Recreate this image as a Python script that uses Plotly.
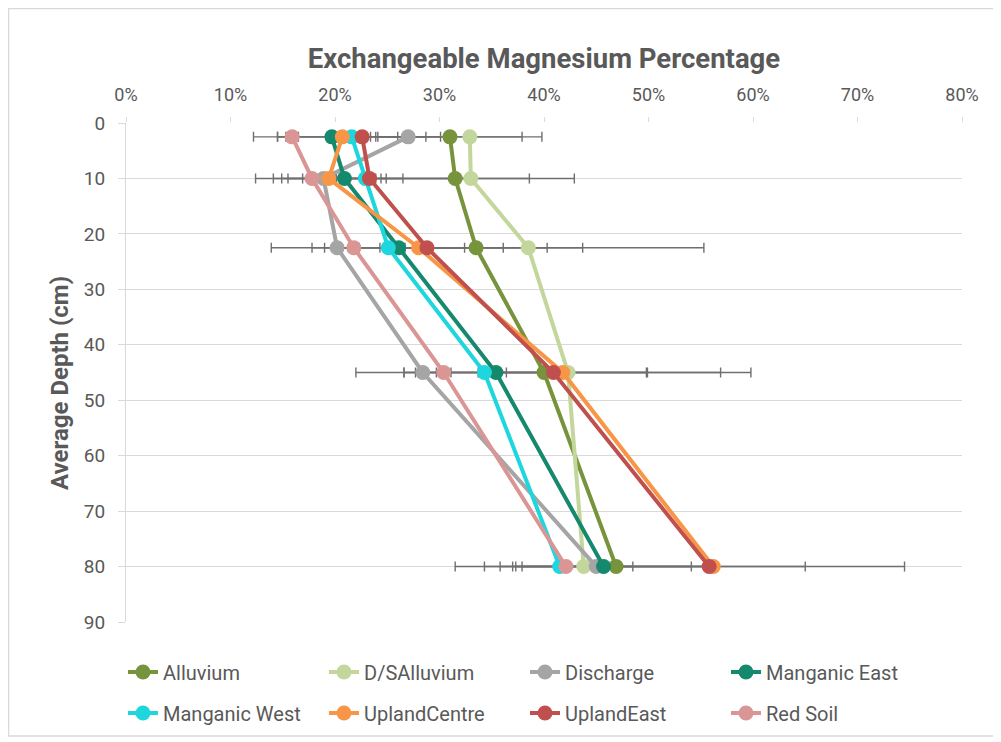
import plotly.graph_objects as go

depths = [2.5, 10, 22.5, 45, 80]
series_names = ["Alluvium", "D/SAlluvium", "Discharge", "Manganic East",
                "Manganic West", "UplandCentre", "UplandEast", "Red Soil"]
colors = ["#77933C", "#C3D69B", "#A5A5A5", "#15896D",
          "#1ED6DE", "#F79646", "#C0504D", "#D99694"]

# Exchangeable Mg % at each depth (fractions)
alluvium      = [0.310, 0.315, 0.335, 0.400, 0.469]
ds_alluvium   = [0.329, 0.330, 0.385, 0.423, 0.438]
discharge     = [0.270, 0.189, 0.202, 0.284, 0.450]
manganic_east = [0.197, 0.209, 0.261, 0.354, 0.457]
manganic_west = [0.216, 0.229, 0.251, 0.343, 0.415]
upland_centre = [0.207, 0.194, 0.280, 0.418, 0.562]
upland_east   = [0.226, 0.233, 0.288, 0.409, 0.558]
red_soil      = [0.159, 0.178, 0.218, 0.304, 0.421]

# error bar half-widths (fractions)
err_alluvium      = [0.069, 0.071, 0.068, 0.098, 0.016]
err_ds_alluvium   = [0.069, 0.099, 0.168, 0.146, 0.123]
err_discharge     = [0.031, 0.048, 0.012, 0.018, 0.107]
err_manganic_east = [0.075, 0.040, 0.018, 0.010, 0.084]
err_manganic_west = [0.071, 0.105, 0.073, 0.077, 0.057]
err_upland_centre = [0.062, 0.045, 0.081, 0.081, 0.183]
err_upland_east   = [0.008, 0.032, 0.149, 0.189, 0.092]
err_red_soil      = [0.006, 0.023, 0.005, 0.007, 0.051]

values = [alluvium, ds_alluvium, discharge, manganic_east,
          manganic_west, upland_centre, upland_east, red_soil]
errors = [err_alluvium, err_ds_alluvium, err_discharge, err_manganic_east,
          err_manganic_west, err_upland_centre, err_upland_east, err_red_soil]

x_ticks = [0, 0.1, 0.2, 0.3, 0.4, 0.5, 0.6, 0.7, 0.8]
y_ticks = [0, 10, 20, 30, 40, 50, 60, 70, 80, 90]

FONT = "Roboto, sans-serif"
TXT = "#595959"
# page body has an 8px margin, so the figure is drawn 8px in from the corner
W, H = 993, 734
L, R, T, B = 118, 39, 115, 120
PW, PH = W - L - R, H - T - B

fig = go.Figure()

# error bars first, so they sit beneath all markers
for name, vals, errs in zip(series_names, values, errors):
    fig.add_trace(go.Scatter(
        x=vals, y=depths, mode="markers",
        marker=dict(size=1, opacity=0),
        error_x=dict(type="data", array=errs, symmetric=True,
                     color="#6F6F6F", thickness=1.4, width=5),
        showlegend=False, hoverinfo="skip"))

for i, (name, vals, col) in enumerate(zip(series_names, values, colors)):
    fig.add_trace(go.Scatter(
        x=vals, y=depths, name=name, mode="lines+markers",
        line=dict(color=col, width=4),
        marker=dict(color=col, size=15),
        legend="legend" if i < 4 else "legend2"))

leg_common = dict(orientation="h", xref="container", yref="container",
                  xanchor="left", yanchor="middle",
                  entrywidth=156, entrywidthmode="pixels",
                  bgcolor="rgba(0,0,0,0)",
                  font=dict(size=20, color=TXT, family=FONT), itemwidth=30)

fig.update_layout(
    width=W, height=H,
    margin=dict(l=L, r=R, t=T, b=B),
    paper_bgcolor="white", plot_bgcolor="white",
    font=dict(family=FONT, color=TXT, size=17),
    title=dict(text="<b>Exchangeable Magnesium Percentage</b>",
               xref="paper", x=0.5, xanchor="center",
               yref="container", y=1 - 50 / H, yanchor="middle",
               font=dict(size=27.5, color=TXT, family=FONT)),
    xaxis=dict(side="top", range=[0, 0.8], tickvals=x_ticks,
               tickformat=".0%", showgrid=False, zeroline=False,
               showline=False, ticks="outside", ticklen=5, tickcolor="#D9D9D9",
               ticklabelstandoff=9, automargin=False,
               tickfont=dict(size=18, color=TXT)),
    yaxis=dict(range=[90, 0], tickvals=y_ticks, showgrid=True,
               gridcolor="#D9D9D9", gridwidth=1, zeroline=False,
               showline=True, linecolor="#D9D9D9", linewidth=1,
               ticks="outside", ticklen=7, tickcolor="#D9D9D9",
               ticklabelstandoff=9, automargin=False,
               tickfont=dict(size=19, color=TXT)),
    legend=dict(x=115 / W, y=1 - 664 / H, **leg_common),
    legend2=dict(x=115 / W, y=1 - 705 / H, **leg_common),
)

# y-axis title
fig.add_annotation(text="<b>Average Depth (cm)</b>", textangle=-90,
                   xref="paper", yref="paper",
                   x=(52 - L) / PW, y=(614 - 375) / PH,
                   showarrow=False, xanchor="center", yanchor="middle",
                   font=dict(size=24, color=TXT, family=FONT))

# outer chart border
fig.add_shape(type="rect", xref="paper", yref="paper",
              x0=(0.5 - L) / PW, x1=(986 - L) / PW,
              y0=(614 - 728) / PH, y1=(614 - 0.5) / PH,
              line=dict(color="#D9D9D9", width=1.5), layer="below")

fig.write_html("out.html")
